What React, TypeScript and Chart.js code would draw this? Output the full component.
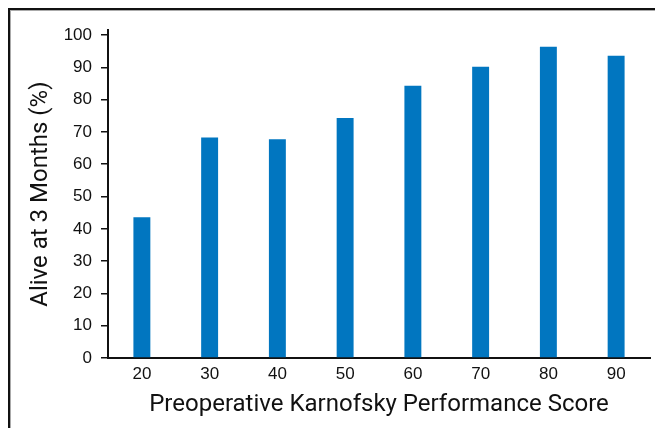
import React, { useEffect, useRef } from "react";
import { Chart, registerables } from "chart.js";

Chart.register(...registerables);

const categories = ["20", "30", "40", "50", "60", "70", "80", "90"];
const aliveValues = [43.6, 68.3, 67.7, 74.3, 84.3, 90.2, 96.4, 93.6];
const yTickValues = [0, 10, 20, 30, 40, 50, 60, 70, 80, 90, 100];

const xTitle = "Preoperative Karnofsky Performance Score";
const yTitle = "Alive at 3 Months (%)";

export default function App() {
  const ref = useRef<HTMLCanvasElement | null>(null);

  useEffect(() => {
    document.documentElement.style.overflow = "hidden";
    document.body.style.overflow = "hidden";
    if (!ref.current) return;
    const chart = new Chart(ref.current, {
      type: "bar",
      data: {
        labels: categories,
        datasets: [
          {
            data: aliveValues,
            backgroundColor: "#0176C0",
            borderWidth: 0,
            barPercentage: 0.25,
            categoryPercentage: 1,
          },
        ],
      },
      options: {
        responsive: false,
        animation: false,
        devicePixelRatio: 1,
        layout: { padding: { top: 18, right: 5, left: 0, bottom: 0 } },
        plugins: { legend: { display: false }, tooltip: { enabled: false } },
        scales: {
          x: {
            grid: { display: false, drawTicks: false },
            border: { display: true, color: "#111", width: 2 },
            ticks: {
              color: "#111",
              padding: 6,
              font: { family: "Liberation Sans, Arial, sans-serif", size: 17 },
            },
            title: {
              display: true,
              text: xTitle,
              color: "#111",
              padding: { top: 0, bottom: 9 },
              font: { family: "Liberation Sans Narrow, Roboto, sans-serif", size: 24 },
            },
            afterFit: (scale: any) => {
              scale.height = 70;
            },
          },
          y: {
            min: 0,
            max: 101.5,
            grid: {
              display: true,
              drawOnChartArea: false,
              drawTicks: true,
              tickLength: 7,
              color: "#111",
              lineWidth: 1.5,
            },
            border: { display: true, color: "#111", width: 2 },
            afterBuildTicks: (scale: any) => {
              scale.ticks = yTickValues.map((v) => ({ value: v }));
            },
            ticks: {
              color: "#111",
              padding: 9,
              font: { family: "Liberation Sans, Arial, sans-serif", size: 17 },
            },
            title: {
              display: true,
              text: yTitle,
              color: "#111",
              padding: { top: 16, bottom: 0 },
              font: { family: "Liberation Sans Narrow, Roboto, sans-serif", size: 24 },
            },
            afterFit: (scale: any) => {
              scale.width = 97;
            },
          },
        },
      },
    });
    return () => chart.destroy();
  }, []);

  return (
    <div
      style={{
        position: "fixed",
        left: 8,
        top: 8,
        width: 660,
        height: 440,
        borderTop: "2px solid #111",
        borderLeft: "2px solid #111",
        boxSizing: "border-box",
        background: "#fff",
      }}
    >
      <div
        style={{
          position: "absolute",
          left: 0,
          top: 0,
          right: 0,
          bottom: 0,
          borderTop: "1px solid #aaa",
          borderLeft: "1px solid #aaa",
        }}
      >
        <canvas
          ref={ref}
          width={644}
          height={417}
          style={{ position: "absolute", left: 0, top: 0, width: 644, height: 417 }}
        />
      </div>
    </div>
  );
}
